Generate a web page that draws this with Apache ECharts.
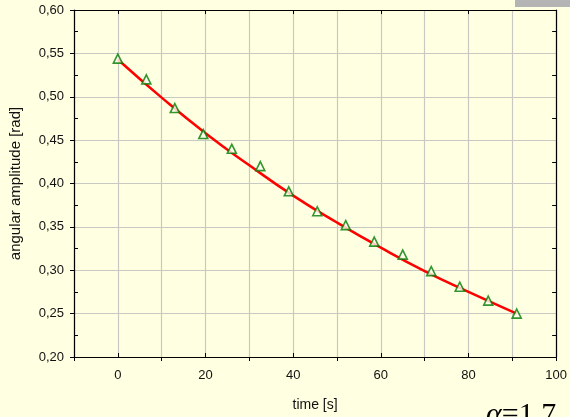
<!DOCTYPE html>
<html>
<head>
<meta charset="utf-8">
<script src="https://cdn.jsdelivr.net/npm/echarts@6/dist/echarts.min.js"></script>
<style>
html,body{margin:0;padding:0;background:#FFFFE2;}
#chart{width:570px;height:417px;}
</style>
</head>
<body>
<div id="chart"></div>
<script>
// measured points
var timeS = [0, 6.5, 13, 19.5, 26, 32.5, 39, 45.5, 52, 58.5, 65, 71.5, 78, 84.5, 91];
var amplitude = [0.544, 0.520, 0.487, 0.457, 0.440, 0.420, 0.391, 0.368, 0.352, 0.333, 0.318, 0.299, 0.281, 0.265, 0.250];
// fitted curve
var fitTime = [0, 10, 20, 30, 40, 50, 60, 70, 80, 91];
var fitAmp = [0.543, 0.499, 0.458, 0.421, 0.386, 0.355, 0.326, 0.299, 0.275, 0.250];
// axis settings
var xTickLabels = [0, 20, 40, 60, 80, 100];
var xTitle = 'time [s]';
var yTitle = 'angular amplitude [rad]';
var note = '=1.7';

var labelFont = {fontFamily: 'Liberation Sans, Arial, sans-serif', fontSize: 13, color: '#111'};
var axisLineStyle = {show: true, onZero: false, lineStyle: {color: '#000', width: 1.2}};
var noLine = {show: false, onZero: false};
var gridColor = '#c9c9c4';

function pairs(xs, ys) { return xs.map(function (x, i) { return [x, ys[i]]; }); }

var chart = echarts.init(document.getElementById('chart'), null, {renderer: 'canvas'});
var xBase = {type: 'value', min: -10, max: 100, gridIndex: 0};
var yBase = {type: 'value', min: 0.2, max: 0.6, interval: 0.05, gridIndex: 0};

chart.setOption({
  backgroundColor: '#FFFFE2',
  animation: false,
  grid: {left: 72, right: 13, top: 10, bottom: 58, containLabel: false},
  xAxis: [
    Object.assign({}, xBase, {
      position: 'bottom', interval: 10,
      name: xTitle, nameLocation: 'middle', nameGap: 41,
      nameTextStyle: {fontFamily: 'Liberation Sans, Arial, sans-serif', fontSize: 14, color: '#111'},
      axisLine: axisLineStyle,
      axisTick: {show: false},
      axisLabel: Object.assign({}, labelFont, {margin: 12, formatter: function (v) {
        return xTickLabels.indexOf(Math.round(v)) >= 0 ? String(Math.round(v)) : '';
      }}),
      splitLine: {show: true, lineStyle: {color: gridColor, width: 1.2}}
    }),
    Object.assign({}, xBase, {
      position: 'bottom', interval: 20,
      axisLine: noLine, axisLabel: {show: false}, splitLine: {show: false},
      axisTick: {show: true, inside: false, length: 4, lineStyle: {color: '#000', width: 1}}
    }),
    Object.assign({}, xBase, {
      position: 'bottom', interval: 20,
      axisLine: noLine, axisLabel: {show: false}, splitLine: {show: false},
      axisTick: {show: false, inside: true},
      minorTick: {show: true, splitNumber: 2, length: 4, lineStyle: {color: '#000', width: 1}}
    }),
    Object.assign({}, xBase, {
      position: 'top', interval: 20,
      axisLine: axisLineStyle, axisLabel: {show: false}, splitLine: {show: false},
      axisTick: {show: false, inside: true},
      minorTick: {show: true, splitNumber: 2, length: 4, lineStyle: {color: '#000', width: 1}}
    })
  ],
  yAxis: [
    Object.assign({}, yBase, {
      position: 'left',
      name: yTitle, nameLocation: 'middle', nameGap: 51, nameRotate: 90,
      nameTextStyle: {fontFamily: 'Liberation Sans, Arial, sans-serif', fontSize: 15, color: '#111'},
      axisLine: axisLineStyle,
      axisTick: {show: true, inside: false, length: 4, lineStyle: {color: '#000', width: 1}},
      axisLabel: Object.assign({}, labelFont, {margin: 10, formatter: function (v) {
        return v.toFixed(2).replace('.', ',');
      }}),
      splitLine: {show: true, lineStyle: {color: gridColor, width: 1.2}}
    }),
    Object.assign({}, yBase, {
      position: 'left',
      axisLine: noLine, axisLabel: {show: false}, splitLine: {show: false},
      axisTick: {show: false, inside: true},
      minorTick: {show: true, splitNumber: 2, length: 4, lineStyle: {color: '#000', width: 1}}
    }),
    Object.assign({}, yBase, {
      position: 'right',
      axisLine: axisLineStyle, axisLabel: {show: false}, splitLine: {show: false},
      axisTick: {show: false, inside: true},
      minorTick: {show: true, splitNumber: 2, length: 4, lineStyle: {color: '#000', width: 1}}
    })
  ],
  series: [
    {
      type: 'line', xAxisIndex: 0, yAxisIndex: 0,
      data: pairs(fitTime, fitAmp), smooth: true, showSymbol: false, symbol: 'none',
      lineStyle: {color: '#ff0000', width: 2.5}, z: 2
    },
    {
      type: 'scatter', xAxisIndex: 0, yAxisIndex: 0,
      data: pairs(timeS, amplitude), symbol: 'triangle', symbolSize: 9,
      itemStyle: {color: '#FFFFF0', borderColor: '#007a00', borderWidth: 1.6}, z: 3
    }
  ],
  graphic: [
    {type: 'rect', left: 515, top: 0, shape: {width: 55, height: 7}, style: {fill: '#b4b4b4'}},
    {type: 'text', left: 486, top: 400, style: {
      text: '{a|α}{b|' + note + '}',
      rich: {
        a: {fontFamily: 'Liberation Serif, Times New Roman, serif', fontStyle: 'italic', fontSize: 30, fill: '#000'},
        b: {fontFamily: 'Liberation Serif, Times New Roman, serif', fontSize: 30, fill: '#000'}
      }
    }}
  ]
});
</script>
</body>
</html>
